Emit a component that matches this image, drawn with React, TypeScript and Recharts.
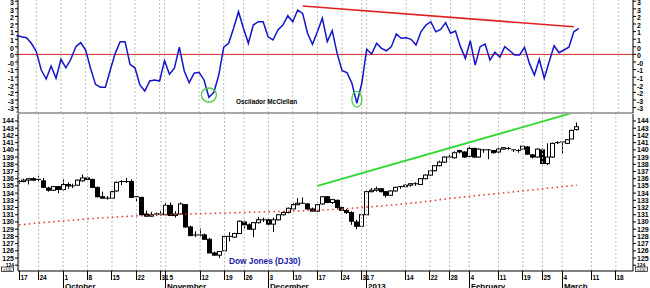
import {
  Bar,
  ComposedChart,
  Line,
  ReferenceDot,
  ReferenceLine,
  XAxis,
  YAxis,
} from "recharts";

const FONT = "'Liberation Sans', Arial, sans-serif";

// trading days, Sep 18 2012 .. Mar 6 2013, then empty days up to Mar 21
const days = [
  "09-18", "09-19", "09-20", "09-21", "09-24", "09-25", "09-26", "09-27", "09-28",
  "10-01", "10-02", "10-03", "10-04", "10-05", "10-08", "10-09", "10-10", "10-11", "10-12",
  "10-15", "10-16", "10-17", "10-18", "10-19", "10-22", "10-23", "10-24", "10-25", "10-26", "10-31",
  "11-01", "11-02", "11-05", "11-06", "11-07", "11-08", "11-09", "11-12", "11-13", "11-14",
  "11-15", "11-16", "11-19", "11-20", "11-21", "11-23", "11-26", "11-27", "11-28", "11-29", "11-30",
  "12-03", "12-04", "12-05", "12-06", "12-07", "12-10", "12-11", "12-12", "12-13", "12-14",
  "12-17", "12-18", "12-19", "12-20", "12-21", "12-24", "12-26", "12-27", "12-28", "12-31",
  "01-02", "01-03", "01-04", "01-07", "01-08", "01-09", "01-10", "01-11", "01-14", "01-15",
  "01-16", "01-17", "01-18", "01-22", "01-23", "01-24", "01-25", "01-28", "01-29", "01-30", "01-31",
  "02-01", "02-04", "02-05", "02-06", "02-07", "02-08", "02-11", "02-12", "02-13", "02-14",
  "02-15", "02-19", "02-20", "02-21", "02-22", "02-25", "02-26", "02-27", "02-28",
  "03-01", "03-04", "03-05", "03-06",
  "03-07", "03-08", "03-11", "03-12", "03-13", "03-14", "03-15", "03-18", "03-19", "03-20", "03-21",
];

// Dow Jones, x100
const open = [
  135.5, 135.6, 135.8, 136.0, 135.9, 135.7, 134.7, 134.4, 134.9,
  134.5, 135.2, 135.0, 135.1, 135.7, 136.1, 135.9, 134.8, 133.5, 133.3,
  133.3, 134.3, 135.5, 135.6, 135.6, 133.4, 133.4, 131.1, 130.8, 131.0, 131.1,
  131.0, 132.3, 130.9, 131.1, 132.4, 129.3, 128.1, 128.2, 128.2, 127.6,
  125.7, 125.4, 126.0, 128.0, 127.9, 128.4, 130.0, 129.6, 129.0, 129.9, 130.3,
  130.3, 129.7, 130.3, 131.0, 131.3, 131.8, 132.4, 132.6, 132.5, 131.8,
  131.5, 132.5, 133.5, 132.7, 133.0, 132.0, 131.6, 131.3, 130.0, 129.4,
  131.0, 134.2, 134.4, 134.6, 134.2, 133.7, 134.3, 134.8, 134.9, 135.1,
  135.3, 135.2, 136.0, 136.5, 137.1, 137.8, 138.3, 139.0, 138.9, 139.9, 139.7,
  139.1, 140.2, 139.0, 140.0, 140.0, 139.9, 139.7, 140.1, 140.2, 140.0,
  139.9, 140.1, 140.4, 139.3, 139.0, 140.0, 138.1, 139.0, 140.9,
  141.0, 140.9, 141.5, 142.8,
];
const high = [
  135.8, 136.0, 136.0, 136.2, 136.4, 136.1, 134.9, 135.0, 135.0,
  135.9, 135.5, 135.3, 135.9, 136.6, 136.3, 136.0, 134.9, 134.2, 133.6,
  134.3, 135.6, 135.8, 136.1, 135.9, 133.6, 133.5, 131.6, 131.4, 131.3, 131.5,
  132.6, 132.7, 131.5, 132.7, 132.4, 129.5, 128.7, 129.1, 128.4, 127.8,
  125.9, 125.9, 128.0, 128.6, 128.5, 130.2, 130.2, 129.8, 130.0, 130.7, 130.6,
  130.6, 130.6, 131.1, 131.5, 132.0, 132.6, 133.3, 133.4, 132.6, 132.0,
  132.5, 133.6, 133.6, 133.2, 133.1, 132.1, 131.8, 131.5, 130.3, 131.1,
  134.4, 134.7, 134.9, 134.7, 134.3, 134.4, 134.9, 135.0, 135.2, 135.4,
  135.5, 136.1, 136.6, 137.2, 137.9, 138.5, 139.1, 139.3, 139.8, 140.0, 139.8,
  140.4, 140.3, 140.2, 140.1, 140.1, 140.0, 140.3, 140.4, 140.4, 140.1,
  140.1, 140.6, 140.5, 139.4, 140.2, 140.2, 140.9, 141.0, 141.2,
  141.2, 141.5, 142.8, 143.8,
];
const low = [
  135.3, 135.5, 135.2, 135.7, 135.6, 134.7, 134.2, 134.3, 134.0,
  134.3, 134.6, 134.7, 135.0, 135.6, 135.8, 134.7, 133.4, 133.3, 133.1,
  133.2, 134.2, 135.1, 135.4, 133.3, 132.8, 131.0, 130.7, 130.7, 130.8, 130.9,
  131.0, 130.9, 130.6, 131.1, 129.2, 128.1, 127.9, 128.0, 127.6, 125.7,
  125.3, 125.0, 126.0, 127.3, 127.8, 128.4, 129.1, 128.9, 127.9, 129.8, 130.0,
  129.6, 128.6, 130.2, 130.9, 131.2, 131.7, 132.3, 132.5, 131.7, 131.5,
  131.4, 132.4, 132.6, 132.5, 131.8, 131.5, 131.1, 129.6, 129.0, 129.3,
  131.0, 134.1, 134.2, 134.1, 133.4, 133.6, 134.2, 134.6, 134.8, 134.9,
  135.0, 135.2, 135.9, 136.4, 137.0, 137.7, 138.2, 138.7, 138.8, 139.5, 138.9,
  139.0, 138.9, 138.9, 139.6, 138.7, 139.5, 139.6, 140.0, 140.0, 139.7,
  139.6, 140.0, 139.3, 138.8, 138.9, 138.0, 137.9, 138.9, 140.8,
  139.5, 140.8, 141.5, 142.7,
];
const close = [
  135.6, 135.8, 136.0, 135.8, 135.9, 134.8, 134.4, 134.9, 134.5,
  135.2, 135.0, 135.0, 135.8, 136.1, 135.9, 134.8, 133.5, 133.3, 133.3,
  134.2, 135.5, 135.6, 135.5, 133.4, 133.5, 131.0, 130.8, 131.0, 131.1, 131.0,
  132.3, 130.9, 131.1, 132.5, 129.3, 128.1, 128.2, 128.2, 127.6, 125.7,
  125.4, 125.9, 128.0, 127.9, 128.4, 130.1, 129.6, 129.0, 129.9, 130.3, 130.3,
  129.7, 130.3, 131.0, 131.3, 131.9, 132.4, 132.6, 132.6, 131.8, 131.5,
  132.4, 133.5, 132.7, 133.1, 132.0, 131.6, 131.3, 130.1, 129.4, 131.0,
  134.2, 134.4, 134.6, 134.2, 133.7, 134.3, 134.8, 134.9, 135.1, 135.3,
  135.2, 136.0, 136.5, 137.1, 137.8, 138.3, 139.0, 138.9, 139.6, 139.7, 139.0,
  140.2, 139.0, 140.1, 140.0, 139.9, 139.6, 140.1, 140.3, 140.2, 139.9,
  139.9, 140.5, 139.4, 139.0, 140.1, 138.1, 139.0, 140.9, 141.0,
  141.1, 141.4, 142.7, 143.2,
];

// McClellan oscillator (scaled)
const osc = [
  1.25, 1.16, 1.1, 0.73, 0.18, -1.03, -1.62, -0.76, -1.57,
  -0.32, -0.88, -0.32, 0.51, 0.77, 0.29, -0.91, -1.97, -2.16, -2.16,
  -1.03, 0.07, 0.84, 0.84, -0.65, -0.88, -2.01, -2.41, -1.75, -1.68, -1.75,
  -0.41, -1.31, -0.91, 0.47, -1.09, -1.86, -1.24, -1.18, -1.68, -2.82,
  -2.5, -1.36, 0.47, 0.73, 1.72, 2.81, 1.72, 0.73, 1.93, 2.15, 2.15,
  1.16, 0.95, 1.61, 1.93, 2.55, 2.15, 2.92, 2.7, 1.39, 0.66,
  1.49, 2.38, 0.84, 1.56, 0.07, -1.07, -1.2, -1.9, -3.22, -1.9,
  0.34, 0.03, 0.73, 0.4, 0.24, 0.51, 1.34, 1.06, 1.1, 0.99,
  0.62, 1.49, 1.93, 2.15, 1.49, 1.65, 2.09, 1.39, 1.54, 0.51, -0.26,
  0.9, -0.7, 0.51, 0.68, -0.37, 0.14, -0.19, 0.51, 0.24, -0.04,
  -0.04, 0.47, -0.59, -1.36, -0.32, -1.57, -0.48, 0.57, 0.11,
  0.29, 0.47, 1.49, 1.72,
];

// moving average, read at a few days
const maDays = [0, 10, 20, 30, 40, 50, 60, 70, 80, 90, 100, 114];
const maValues = [129.6, 130.2, 130.7, 131.0, 131.2, 131.4, 131.6, 132.0, 132.6, 133.4, 134.1, 135.1];

const dayTicks = [0, 4, 9, 14, 19, 24, 29, 30, 37, 42, 46, 51, 56, 61, 66, 70, 71, 79, 84, 88, 92, 98, 103, 107, 111, 117, 122];
const dayTickLabels = ["17", "24", "1", "8", "15", "22", "31", "5", "12", "19", "26", "3", "10", "17", "24", "31", "7", "14", "22", "28", "4", "11", "19", "25", "4", "11", "18"];
const monthTicks = [9, 30, 51, 71, 92, 111];
const monthLabels = ["October", "November", "December", "2013", "February", "March"];

const oscTicks = [3.5, 3, 2.5, 2, 1.5, 1, 0.5, 0, -0.5, -1, -1.5, -2, -2.5, -3, -3.5];
const oscTickLabels = ["3", "3", "2", "2", "1", "1", "0", "0", "-0", "-1", "-1", "-2", "-2", "-3", "-3"];
const priceTicks = [124, 125, 126, 127, 128, 129, 130, 131, 132, 133, 134, 135, 136, 137, 138, 139, 140, 141, 142, 143, 144];

const rows = days.map((day, i) => ({
  i,
  day,
  o: open[i] ?? null,
  h: high[i] ?? null,
  l: low[i] ?? null,
  c: close[i] ?? null,
  osc: osc[i] ?? null,
  ma: maDays.includes(i) ? maValues[maDays.indexOf(i)] : null,
}));

function Candle(props: any) {
  const { x, y, width, height, payload } = props;
  if (payload.o == null) return <g />;
  const cx = Math.floor(x + width / 2) + 0.5;
  const span = payload.h - payload.l;
  const k = span > 0 ? height / span : 0;
  const yo = y + (payload.h - payload.o) * k;
  const yc = y + (payload.h - payload.c) * k;
  const top = Math.min(yo, yc);
  const bh = Math.abs(yo - yc);
  return (
    <g>
      <line x1={cx} x2={cx} y1={y} y2={y + height} stroke="#000" strokeWidth={1} />
      {bh < 1.3 ? (
        <line x1={cx - 2.5} x2={cx + 2.5} y1={top} y2={top} stroke="#000" strokeWidth={1} />
      ) : (
        <rect x={cx - 2} y={top} width={4} height={bh} fill={payload.c >= payload.o ? "#fff" : "#000"} stroke="#000" strokeWidth={1} />
      )}
    </g>
  );
}

function oscTick(side: "l" | "r") {
  return (p: any) => {
    const label = oscTickLabels[oscTicks.indexOf(p.payload.value)];
    return (
      <text x={p.x} y={p.y + 3.8} textAnchor={side === "l" ? "end" : "start"} fontSize={7} fontWeight="bold" fontFamily={FONT} fill="#000">
        {label}
      </text>
    );
  };
}

function priceTick(side: "l" | "r") {
  return (p: any) => {
    const v = p.payload.value;
    const anchor = side === "l" ? "end" : "start";
    if (v === 124) {
      const bx = side === "l" ? 1.5 : 635.5;
      return (
        <g>
          <text x={p.x} y={p.y + 1.5} textAnchor={anchor} fontSize={5} fontWeight="bold" fontFamily={FONT} fill="#000">124</text>
          <rect x={bx} y={p.y + 1.8} width={12} height={4.6} fill="#fff" stroke="#000" strokeWidth={0.7} />
          <text x={bx + 6} y={p.y + 5.6} textAnchor="middle" fontSize={4} fontFamily={FONT} fill="#000">x100</text>
        </g>
      );
    }
    return (
      <text x={p.x} y={p.y + 2.5} textAnchor={anchor} fontSize={7} fontWeight="bold" fontFamily={FONT} fill="#000">
        {v}
      </text>
    );
  };
}

const DAY_FS = 6.5;
const BAND = 616.4 / 126;

function DayTick(p: any) {
  const v = p.payload.value;
  const k = dayTicks.indexOf(v);
  const m = monthTicks.indexOf(v);
  const ax = Math.floor(p.x) + 0.5;
  const y0 = p.y;
  // keep a label clear of the one before it when two ticks sit a day apart
  let tx = ax + 1;
  if (k > 0) {
    const prevX = ax - (v - dayTicks[k - 1]) * BAND;
    const prevEnd = prevX + 1 + dayTickLabels[k - 1].length * 0.556 * DAY_FS;
    tx = Math.max(tx, prevEnd + 0.6);
  }
  return (
    <g>
      <line x1={ax} x2={ax} y1={y0} y2={m >= 0 ? y0 + 18 : y0 + 9} stroke="#000" strokeWidth={1} />
      <text x={tx} y={y0 + 8.8} fontSize={DAY_FS} fontWeight="bold" fontFamily={FONT} fill="#000">
        {dayTickLabels[k]}
      </text>
      {m >= 0 && (
        <text x={ax + 1.5} y={y0 + 17.6} fontSize={8} fontWeight="bold" fontFamily={FONT} fill="#000">
          {monthLabels[m]}
        </text>
      )}
    </g>
  );
}

const grid = "#bdbdbd";
const xPad = { left: -1.4, right: 0 };

export default function App() {
  return (
    <div style={{ position: "absolute", left: 0, top: 0, width: 650, height: 288, background: "#fff", overflow: "hidden" }}>
      <div style={{ position: "absolute", left: 0, top: 0 }}>
        <ComposedChart width={650} height={114} data={rows} margin={{ top: 0, right: 0, bottom: 0, left: 0 }}>
          <XAxis dataKey="i" type="category" padding={xPad} height={1} ticks={dayTicks} interval={0} tick={false} tickLine={false} axisLine={{ stroke: "#8a8a8a", strokeWidth: 1.5 }} />
          <YAxis yAxisId="l" width={18} domain={[-3.855, 3.58]} allowDataOverflow ticks={oscTicks} interval={0} tickSize={3} tickMargin={1} tick={oscTick("l")} axisLine={{ stroke: "#000" }} tickLine={{ stroke: "#000" }} />
          <YAxis yAxisId="r" orientation="right" width={17} domain={[-3.855, 3.58]} allowDataOverflow ticks={oscTicks} interval={0} tickSize={3} tickMargin={1} tick={oscTick("r")} axisLine={{ stroke: "#000" }} tickLine={{ stroke: "#000" }} />
          {dayTicks.map((t) => (
            <ReferenceLine key={t} yAxisId="l" x={t} stroke={grid} strokeDasharray="2 2" />
          ))}
          <ReferenceLine yAxisId="l" y={0} stroke="#d42a2a" strokeWidth={1} />
          <ReferenceLine yAxisId="l" segment={[{ x: 58, y: 3.185 }, { x: 113, y: 1.82 }]} stroke="#e02020" strokeWidth={1.6} ifOverflow="visible" />
          <Line yAxisId="l" type="linear" dataKey="osc" stroke="#1414c8" strokeWidth={1.5} dot={false} isAnimationActive={false} />
          <ReferenceDot yAxisId="l" x={39} y={-2.67} r={7} ifOverflow="visible"
            shape={(s: any) => <ellipse cx={s.cx} cy={s.cy} rx={7.5} ry={7} fill="none" stroke="#3fd03f" strokeWidth={1.3} />} />
          <ReferenceDot yAxisId="l" x={69} y={-2.95} r={7} ifOverflow="visible"
            shape={(s: any) => <ellipse cx={s.cx} cy={s.cy} rx={5} ry={7.8} fill="none" stroke="#3fd03f" strokeWidth={1.3} />} />
        </ComposedChart>
      </div>
      <div style={{ position: "absolute", left: 0, top: 114 }}>
        <ComposedChart width={650} height={174} data={rows} margin={{ top: 0, right: 0, bottom: 0, left: 0 }}>
          <XAxis dataKey="i" type="category" padding={xPad} height={17} ticks={dayTicks} interval={0} tickSize={0} tickMargin={0} tickLine={false} tick={DayTick} axisLine={{ stroke: "#000" }} />
          <YAxis yAxisId="l" width={18} domain={[123.2, 144.97]} allowDataOverflow ticks={priceTicks} interval={0} tickSize={3} tickMargin={1} tick={priceTick("l")} axisLine={{ stroke: "#000" }} tickLine={{ stroke: "#000" }} />
          <YAxis yAxisId="r" orientation="right" width={17} domain={[123.2, 144.97]} allowDataOverflow ticks={priceTicks} interval={0} tickSize={3} tickMargin={1} tick={priceTick("r")} axisLine={{ stroke: "#000" }} tickLine={{ stroke: "#000" }} />
          {dayTicks.map((t) => (
            <ReferenceLine key={t} yAxisId="l" x={t} stroke={grid} strokeDasharray="2 2" />
          ))}
          <Line yAxisId="l" type="monotone" dataKey="ma" connectNulls stroke="#e23232" strokeWidth={1.5} strokeDasharray="1.5 3.4" dot={false} isAnimationActive={false} />
          <ReferenceLine yAxisId="l" segment={[{ x: 61, y: 135.0 }, { x: 114, y: 145.3 }]} stroke="#2fd82f" strokeWidth={1.8} ifOverflow="visible" />
          <Bar yAxisId="l" dataKey={(d: any) => (d.h == null ? null : [d.l, d.h])} shape={Candle} isAnimationActive={false} />
        </ComposedChart>
      </div>
      <svg width={650} height={288} style={{ position: "absolute", left: 0, top: 0, pointerEvents: "none" }}>
        <text x={236} y={104} fontSize={6.4} fontWeight="bold" fontFamily={FONT} fill="#000">Oscilador McClellan</text>
        <text x={229} y={263.5} fontSize={8.3} fontWeight="bold" fontFamily={FONT} fill="#1a1aa8">Dow Jones (DJ30)</text>
      </svg>
    </div>
  );
}
